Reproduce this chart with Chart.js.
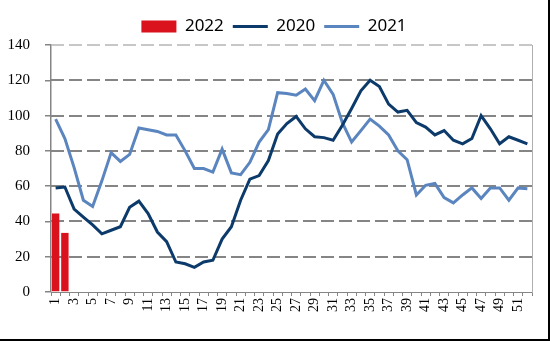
<!DOCTYPE html>
<html>
<head>
<meta charset="utf-8">
<script src="https://cdn.jsdelivr.net/npm/chart.js@4"></script>
<style>
  body { margin: 0; background: #fff; }
  #wrap { width: 550px; height: 341px; box-sizing: border-box; border-right: 2px solid #000; border-bottom: 2px solid #000; }
</style>
</head>
<body>
<div id="wrap"><canvas id="weekChart"></canvas></div>
<script>
// weeks 1..52
const weeks = [];
for (let w = 1; w <= 52; w++) weeks.push(String(w));

const yTicks = [0, 20, 40, 60, 80, 100, 120, 140];

const data2022 = [44.5, 33.5];

const data2020 = [59, 59.5, 47, 42.5, 38, 33, 35, 37, 48, 51.5,
                  44.5, 34, 28.5, 17, 16, 14, 17, 18, 30, 37,
                  52, 64, 66, 74.5, 89.5, 95.5, 99.5, 92.5, 88, 87.5,
                  86, 94.5, 104, 114, 120, 116.5, 106.5, 102, 103, 96,
                  93.5, 89, 91.5, 86, 84, 87, 100, 92.5, 84, 88,
                  86, 84];

const data2021 = [98, 87, 70.5, 52, 48.5, 63, 79, 74, 78, 93,
                  92, 91, 89, 89, 80, 70, 70, 68, 81, 67.5,
                  66.5, 73.5, 85, 92, 113, 112.5, 111.5, 115, 108.5, 120,
                  112, 96, 85, 91.5, 98, 94, 89, 80, 75, 55,
                  60.5, 61.5, 53.5, 50.5, 55, 59, 53, 59, 59, 52,
                  59, 58.5];

const gridGrey = '#858585';

// dashed horizontal grid, drawn under the series
const dashedGrid = {
    id: 'dashedGrid',
    beforeDatasetsDraw(chart) {
        const c = chart.ctx;
        const area = chart.chartArea;
        const y = chart.scales.y;
        c.save();
        c.setLineDash([13, 5]);
        yTicks.forEach(function (v) {
            if (v === 0) return;
            const py = Math.round(y.getPixelForValue(v));
            c.lineWidth = v === 140 ? 1.5 : 2;
            c.strokeStyle = v === 140 ? '#b5b5b5' : gridGrey;
            c.beginPath();
            c.moveTo(area.left, py);
            c.lineTo(area.right, py);
            c.stroke();
        });
        c.restore();
    }
};

const ctx = document.getElementById('weekChart').getContext('2d');
const chart = new Chart(ctx, {
    data: {
        labels: weeks,
        datasets: [{
            type: 'bar',
            label: '2022',
            data: data2022,
            backgroundColor: '#d9121d',
            barPercentage: 0.8,
            categoryPercentage: 1
        }, {
            type: 'line',
            label: '2020',
            data: data2020,
            borderColor: '#0c3b6b',
            backgroundColor: '#0c3b6b',
            borderWidth: 3,
            pointRadius: 0,
            tension: 0
        }, {
            type: 'line',
            label: '2021',
            data: data2021,
            borderColor: '#5a85bf',
            backgroundColor: '#5a85bf',
            borderWidth: 3,
            pointRadius: 0,
            tension: 0
        }]
    },
    options: {
        responsive: true,
        maintainAspectRatio: false,
        animation: false,
        layout: { padding: { top: 9, left: 0, right: 0, bottom: 0 } },
        plugins: {
            tooltip: { enabled: false },
            legend: {
                position: 'top',
                labels: {
                    usePointStyle: true,
                    pointStyleWidth: 35,
                    boxHeight: 12,
                    padding: 9,
                    color: '#000',
                    font: { family: 'Noto Sans', size: 17 },
                    generateLabels: function (c) {
                        const items = Chart.defaults.plugins.legend.labels.generateLabels(c);
                        items.forEach(function (item) {
                            const ds = c.data.datasets[item.datasetIndex];
                            if (ds.type === 'bar') {
                                item.pointStyle = 'rect';
                                item.lineWidth = 0;
                            } else {
                                item.pointStyle = 'line';
                                item.lineWidth = 3;
                                item.strokeStyle = ds.borderColor;
                            }
                        });
                        items.sort((a, b) => a.datasetIndex - b.datasetIndex);
                        return items;
                    }
                }
            }
        },
        scales: {
            x: {
                offset: true,
                grid: { offset: true, drawOnChartArea: false, tickLength: 4, color: gridGrey, lineWidth: 1 },
                border: { color: gridGrey, width: 1 },
                ticks: {
                    autoSkip: false,
                    maxRotation: 90,
                    minRotation: 90,
                    padding: 2,
                    color: '#000',
                    font: { family: 'Liberation Serif', size: 14 },
                    callback: function (v, i) { return i % 2 === 0 ? this.getLabelForValue(v) : ''; }
                },
                afterFit: function (s) { s.height = 47; }
            },
            y: {
                min: 0,
                max: 140,
                afterBuildTicks: function (s) { s.ticks = yTicks.map(v => ({ value: v })); },
                ticks: {
                    padding: 15,
                    color: '#000',
                    font: { family: 'Liberation Serif', size: 15 }
                },
                grid: { drawOnChartArea: false, tickLength: 6, color: gridGrey, lineWidth: 1.5 },
                border: { color: gridGrey, width: 1.5 },
                afterFit: function (s) { s.width = 51; }
            },
            y2: {
                position: 'right',
                min: 0,
                max: 140,
                ticks: { display: false },
                grid: { drawOnChartArea: false, drawTicks: false },
                border: { color: '#b0b0b0', width: 1 },
                afterFit: function (s) { s.width = 16; }
            }
        }
    },
    plugins: [dashedGrid]
});
</script>
</body>
</html>
